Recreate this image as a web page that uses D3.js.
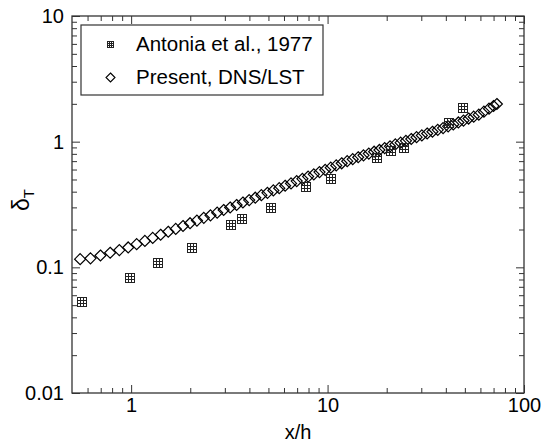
<!DOCTYPE html>
<html>
<head>
<meta charset="utf-8">
<script src="https://cdn.jsdelivr.net/npm/d3@7"></script>
<style>
  body { margin: 0; background: #fff; }
  text { font-family: "Liberation Sans", Arial, Helvetica, sans-serif; fill: #000; }
</style>
</head>
<body>
<div id="chart"></div>
<script>
// data
var antoniaX = [0.562, 0.987, 1.37, 2.04, 3.23, 3.67, 5.16, 7.77, 10.4, 17.9, 21.0, 24.5, 41.6, 49.0];
var antoniaY = [0.0531, 0.0824, 0.109, 0.143, 0.218, 0.243, 0.297, 0.436, 0.505, 0.742, 0.843, 0.891, 1.41, 1.85];

var presentX = [0.550, 0.621, 0.698, 0.782, 0.871, 0.966, 1.067, 1.175, 1.288, 1.413,
    1.545, 1.687, 1.837, 1.995, 2.163, 2.344, 2.535, 2.742, 2.958, 3.192,
    3.443, 3.707, 3.990, 4.285, 4.603, 4.943, 5.297, 5.675, 6.081, 6.516,
    6.966, 7.447, 7.962, 8.511, 9.099, 9.727, 10.38, 11.07, 11.80, 12.59,
    13.43, 14.32, 15.24, 16.22, 17.26, 18.37, 19.54, 20.80, 22.13, 23.55,
    25.06, 26.67, 28.38, 30.20, 32.14, 34.20, 36.39, 38.73, 41.11, 43.65,
    46.34, 49.20, 52.24, 55.46, 58.88, 62.52, 66.37, 69.98, 72.78];
var presentY = [0.1161, 0.1180, 0.1242, 0.1306, 0.1371, 0.1439, 0.1528, 0.1622, 0.1714, 0.1816,
    0.1919, 0.2023, 0.2133, 0.2244, 0.2355, 0.2477, 0.2594, 0.2723, 0.2858, 0.2992,
    0.3133, 0.3281, 0.3428, 0.3581, 0.3750, 0.3917, 0.4093, 0.4266, 0.4457, 0.4656,
    0.4853, 0.5058, 0.5272, 0.5495, 0.5728, 0.5970, 0.6209, 0.6471, 0.6730, 0.6998,
    0.7261, 0.7516, 0.7780, 0.8035, 0.8318, 0.8590, 0.8892, 0.9183, 0.9506, 0.9817,
    1.016, 1.050, 1.086, 1.122, 1.161, 1.199, 1.242, 1.282, 1.324, 1.371,
    1.422, 1.472, 1.528, 1.581, 1.641, 1.734, 1.832, 1.923, 1.995];

var xMajor = [1, 10, 100];
var xMinor = [0.6, 0.7, 0.8, 0.9, 2, 3, 4, 5, 6, 7, 8, 9, 20, 30, 40, 50, 60, 70, 80, 90];
var yMajor = [0.01, 0.1, 1, 10];
var yMinor = [0.02, 0.03, 0.04, 0.05, 0.06, 0.07, 0.08, 0.09,
    0.2, 0.3, 0.4, 0.5, 0.6, 0.7, 0.8, 0.9,
    2, 3, 4, 5, 6, 7, 8, 9];
var yLabels = ["0.01", "0.1", "1", "10"];
var legendNames = ["Antonia et al., 1977", "Present, DNS/LST"];

// svg size
var svgWidth = 551;
var svgHeight = 442;

var margin = {
    top: 16,
    bottom: 49,
    left: 72,
    right: 27
};

var width = svgWidth - margin.left - margin.right;
var height = svgHeight - margin.top - margin.bottom;

var svg = d3.select("#chart")
    .append("svg")
    .attr("width", svgWidth)
    .attr("height", svgHeight);

var chartGroup = svg.append("g")
    .attr("transform", `translate(${margin.left}, ${margin.top})`);

var xScale = d3.scaleLog()
    .domain([0.5, 100])
    .range([0, width]);

var yScale = d3.scaleLog()
    .domain([0.01, 10])
    .range([height, 0]);

// ticks point inward on all four sides
function addAxis(axisFn, scale, values, size, transform, labels) {
    var ax = axisFn(scale)
        .tickValues(values)
        .tickSizeInner(-size)
        .tickSizeOuter(0)
        .tickPadding(labels ? 8 : 0)
        .tickFormat(labels ? (d, i) => labels[i] : "");
    var g = chartGroup.append("g")
        .attr("transform", transform)
        .call(ax);
    g.select(".domain").remove();
    g.selectAll("line").attr("stroke", "#333").attr("stroke-width", 1);
    g.selectAll("text").style("font-size", "20px").attr("fill", "#000");
    return g;
}

var xb = addAxis(d3.axisBottom, xScale, xMajor, 8, `translate(0, ${height})`, ["1", "10", "100"]);
xb.selectAll("text").attr("y", 5);
addAxis(d3.axisBottom, xScale, xMinor, 5, `translate(0, ${height})`, null);
addAxis(d3.axisTop, xScale, xMajor, 8, "translate(0, 0)", null);
addAxis(d3.axisTop, xScale, xMinor, 5, "translate(0, 0)", null);

addAxis(d3.axisLeft, yScale, yMajor, 8, "translate(0, 0)", yLabels);
addAxis(d3.axisLeft, yScale, yMinor, 5, "translate(0, 0)", null);
addAxis(d3.axisRight, yScale, yMajor, 8, `translate(${width}, 0)`, null);
addAxis(d3.axisRight, yScale, yMinor, 5, `translate(${width}, 0)`, null);

// frame
chartGroup.append("rect")
    .attr("width", width)
    .attr("height", height)
    .attr("fill", "none")
    .attr("stroke", "#333")
    .attr("stroke-width", 1.3);

// marker shapes
function gridSquare(g, s) {
    var h = s / 2, t = s / 3;
    g.attr("shape-rendering", "crispEdges");
    g.append("rect")
        .attr("x", -h).attr("y", -h)
        .attr("width", s).attr("height", s)
        .attr("fill", "none")
        .attr("stroke", "#222")
        .attr("stroke-width", 1);
    g.append("path")
        .attr("d", `M${-h + t},${-h}V${h}M${-h + 2 * t},${-h}V${h}M${-h},${-h + t}H${h}M${-h},${-h + 2 * t}H${h}`)
        .attr("stroke", "#222")
        .attr("stroke-width", 1);
}

function diamond(g, r, w) {
    g.append("path")
        .attr("d", `M0,${-r}L${r},0L0,${r}L${-r},0Z`)
        .attr("fill", "none")
        .attr("stroke", "#000")
        .attr("stroke-width", w);
}

// present DNS/LST
chartGroup.append("g")
    .selectAll("g")
    .data(presentX)
    .enter()
    .append("g")
    .attr("transform", (d, i) => `translate(${xScale(d)}, ${yScale(presentY[i])})`)
    .each(function() { diamond(d3.select(this), 5.5, 1.2); });

// Antonia et al.
chartGroup.append("g")
    .selectAll("g")
    .data(antoniaX)
    .enter()
    .append("g")
    .attr("transform", (d, i) => `translate(${Math.round(xScale(d))}, ${Math.round(yScale(antoniaY[i]))})`)
    .each(function() { gridSquare(d3.select(this), 9); });

// legend
var legend = svg.append("g");
legend.append("rect")
    .attr("x", 81)
    .attr("y", 25)
    .attr("width", 242)
    .attr("height", 70)
    .attr("fill", "#fff")
    .attr("stroke", "#333")
    .attr("stroke-width", 1.2);

gridSquare(legend.append("g").attr("transform", "translate(110.5, 44.5)"), 6);
diamond(legend.append("g").attr("transform", "translate(110.5, 77.5)"), 4.5, 1.1);

legend.selectAll("text.leg")
    .data(legendNames)
    .enter()
    .append("text")
    .attr("class", "leg")
    .attr("x", 136)
    .attr("y", (d, i) => 51 + i * 33)
    .style("font-size", "20.5px")
    .text(d => d);

// axis titles
svg.append("text")
    .attr("x", margin.left + width / 2)
    .attr("y", 439)
    .attr("text-anchor", "middle")
    .style("font-size", "20px")
    .text("x/h");

var yTitle = svg.append("text")
    .attr("transform", "translate(29, 200) rotate(-90)")
    .attr("text-anchor", "middle")
    .style("font-size", "23px");
yTitle.append("tspan").text("δ");
yTitle.append("tspan").attr("dy", 5).style("font-size", "15px").text("T");
</script>
</body>
</html>
